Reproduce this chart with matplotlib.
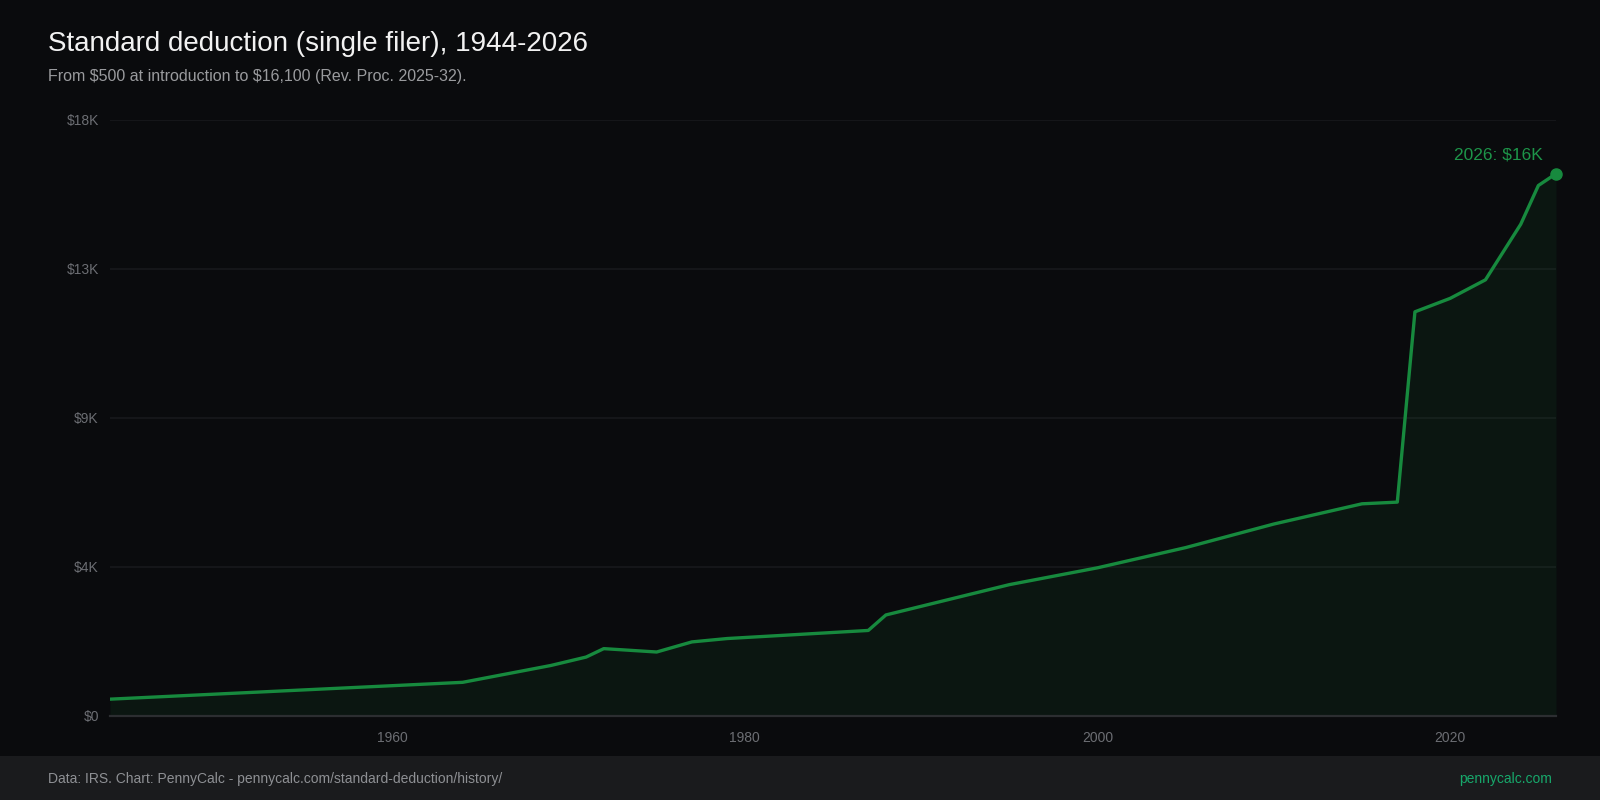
import matplotlib
matplotlib.use("Agg")
import matplotlib.pyplot as plt
from matplotlib.patches import Rectangle
from matplotlib.ticker import FuncFormatter
import numpy as np

plt.rcParams['font.family'] = ['Liberation Sans', 'DejaVu Sans']
plt.rcParams['text.parse_math'] = False

# ---- data ----
years = [1944, 1964, 1969, 1971, 1972, 1975, 1977, 1979, 1987, 1988, 1995,
         2000, 2005, 2010, 2015, 2017, 2018, 2020, 2022, 2024, 2025, 2026]
deduction = [500, 1000, 1500, 1750, 2000, 1900, 2200, 2300, 2540, 3000, 3900,
             4400, 5000, 5700, 6300, 6350, 12000, 12400, 12950, 14600, 15750, 16100]
x_ticks = [1960, 1980, 2000, 2020]
title = "Standard deduction (single filer), 1944-2026"
subtitle = "From $500 at introduction to $16,100 (Rev. Proc. 2025-32)."
footer_left = "Data: IRS. Chart: PennyCalc - pennycalc.com/standard-deduction/history/"
footer_right = "pennycalc.com"
annot = "2026: $16K"

BG = '#0a0b0d'
FOOT = '#1a1b1d'
GREEN = '#178a3e'
GRID = '#191a1d'
TICK = '#6c6e73'

fig = plt.figure(figsize=(16, 8), dpi=100, facecolor=BG)
fig.patches.append(Rectangle((0, 0), 1, 44 / 800, transform=fig.transFigure,
                             facecolor=FOOT, edgecolor='none', zorder=0))

ax = fig.add_axes([110 / 1600, 1 - 716 / 800, 1446 / 1600, 596.5 / 800])
ax.set_facecolor(BG)

ymax = max(deduction) * 1.1
ax.set_xlim(years[0], years[-1])
ax.set_ylim(0, ymax)

ax.fill_between(years, deduction, 0, color=GREEN, alpha=0.09, linewidth=0, zorder=1)
ax.plot(years, deduction, color=GREEN, lw=2.4, zorder=3, solid_joinstyle='round')
ax.plot([years[-1]], [deduction[-1]], 'o', color=GREEN, ms=8, zorder=4, clip_on=False)
ax.annotate(annot, xy=(years[-1], deduction[-1]), xytext=(-9.5, 13.5),
            textcoords='offset points', ha='right', va='center',
            color='#1d9549', fontsize=12.5)

yt = np.linspace(0, ymax, 5)
ax.set_yticks(yt)
ax.yaxis.set_major_formatter(FuncFormatter(lambda v, p: f"${v/1000:.0f}K" if v > 0 else "$0"))
ax.set_xticks(x_ticks)
ax.grid(axis='y', color=GRID, lw=1.1)
ax.grid(axis='x', visible=False)
ax.set_axisbelow(True)
for s in ['left', 'right', 'top']:
    ax.spines[s].set_visible(False)
ax.spines['bottom'].set_color('#2c2e31')
ax.spines['bottom'].set_linewidth(1.6)
ax.tick_params(axis='both', length=0, colors=TICK, labelsize=10)
ax.tick_params(axis='y', pad=8)
ax.tick_params(axis='x', pad=11)

fig.text(48 / 1600, 1 - 44 / 800, title, color='#f2f2f2', fontsize=20, va='center', ha='left')
fig.text(48 / 1600, 1 - 76 / 800, subtitle, color='#9a9b9e', fontsize=11.5, va='center', ha='left')
fig.text(48 / 1600, 1 - 779 / 800, footer_left, color='#8e9094', fontsize=10, va='center', ha='left')
fig.text(1552 / 1600, 1 - 779 / 800, footer_right, color='#17a86b', fontsize=10, va='center', ha='right')

fig.savefig('out.png', dpi=100, facecolor=BG)
